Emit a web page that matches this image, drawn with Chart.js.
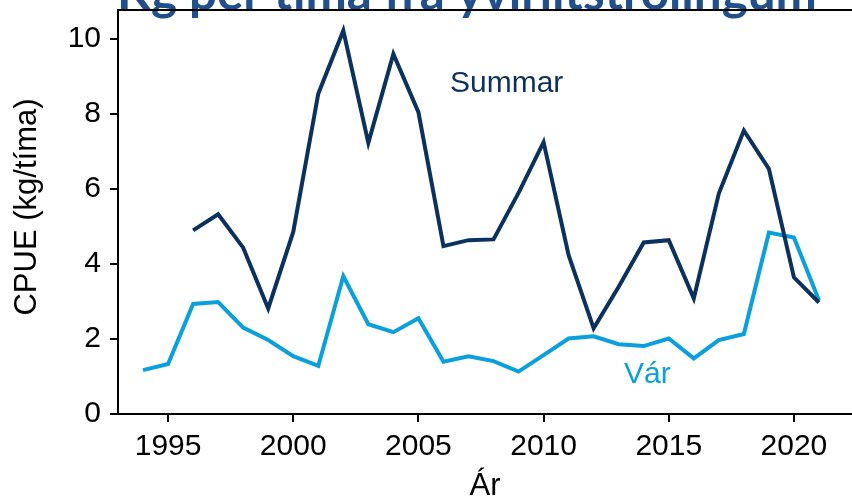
<!DOCTYPE html>
<html>
<head>
<meta charset="utf-8">
<script src="https://cdn.jsdelivr.net/npm/chart.js@4/dist/chart.umd.min.js"></script>
<style>
  html, body { margin: 0; padding: 0; background: #fff; }
  #wrap { width: 852px; height: 497px; position: relative; }
</style>
</head>
<body>
<div id="wrap"><canvas id="myChart"></canvas></div>
<script>
// data
var years = [1994, 1995, 1996, 1997, 1998, 1999, 2000, 2001, 2002, 2003, 2004, 2005, 2006, 2007,
	2008, 2009, 2010, 2011, 2012, 2013, 2014, 2015, 2016, 2017, 2018, 2019, 2020, 2021];
var summar = [null, null, 4.89, 5.32, 4.43, 2.81, 4.85, 8.53, 10.21, 7.22, 9.59, 8.04, 4.47, 4.63,
	4.65, 5.89, 7.24, 4.23, 2.28, 3.39, 4.57, 4.63, 3.08, 5.87, 7.55, 6.53, 3.64, 2.97];
var var_ = [1.17, 1.33, 2.93, 2.98, 2.30, 1.97, 1.54, 1.28, 3.67, 2.39, 2.18, 2.55, 1.39, 1.54,
	1.41, 1.13, 1.57, 2.01, 2.07, 1.86, 1.81, 2.01, 1.48, 1.97, 2.13, 4.83, 4.70, 3.03];
var xTicks = [1995, 2000, 2005, 2010, 2015, 2020];
var yTicks = [0, 2, 4, 6, 8, 10];

var titleText = "Kg per tíma frá yvirlitstrolingum";
var seriesNames = ["Summar", "Vár"];
var colors = ["#0B315E", "#0A9FDD"];

function points(vals) {
	return years.map(function(y, i) { return { x: y, y: vals[i] }; });
}

var font = "'Liberation Sans', Arial, sans-serif";

var textPlugin = {
	id: 'texts',
	afterDraw: function(chart) {
		var c = chart.ctx;
		var a = chart.chartArea;
		c.save();

		// title, cut off at top like the original
		var size = 40;
		c.font = "bold " + size + "px Lato, sans-serif";
		var w = c.measureText(titleText).width;
		size = size * 700 / w;
		c.font = "bold " + size + "px Lato, sans-serif";
		c.fillStyle = "#214F8B";
		c.textAlign = "center";
		c.textBaseline = "alphabetic";
		c.fillText(titleText, 467, 10);

		// frame line on top
		c.strokeStyle = "#000";
		c.lineWidth = 2;
		c.beginPath();
		c.moveTo(a.left, a.top);
		c.lineTo(a.right, a.top);
		c.stroke();

		// series labels
		c.font = "30px " + font;
		c.textAlign = "left";
		c.fillStyle = colors[0];
		c.fillText(seriesNames[0], 450, 92);
		c.fillStyle = colors[1];
		c.fillText(seriesNames[1], 624, 383);

		// axis titles
		c.fillStyle = "#000";
		c.font = "31px " + font;
		c.textAlign = "center";
		c.textBaseline = "middle";
		c.fillText("Ár", (a.left + a.right) / 2, 486);
		c.translate(27, 207);
		c.rotate(-Math.PI / 2);
		c.fillText("CPUE (kg/tíma)", 0, 0);
		c.restore();
	}
};

var ctx = document.getElementById("myChart");

var myLineChart = new Chart(ctx, {
	type: 'line',
	data: {
		datasets: [
			{
				label: seriesNames[0],
				data: points(summar),
				borderColor: colors[0],
				borderWidth: 4,
				pointRadius: 0,
				tension: 0,
				spanGaps: false
			},
			{
				label: seriesNames[1],
				data: points(var_),
				borderColor: colors[1],
				borderWidth: 4,
				pointRadius: 0,
				tension: 0
			}
		]
	},
	options: {
		responsive: true,
		maintainAspectRatio: false,
		animation: false,
		layout: { padding: { top: 10, left: 0, right: 0, bottom: 0 } },
		plugins: {
			legend: { display: false },
			tooltip: { enabled: false }
		},
		scales: {
			x: {
				type: 'linear',
				min: 1993,
				max: 2022.32,
				afterBuildTicks: function(scale) {
					scale.ticks = xTicks.map(function(v) { return { value: v }; });
				},
				afterFit: function(scale) {
					scale.height = 83;
					scale.paddingLeft = 0;
					scale.paddingRight = 0;
				},
				grid: { drawOnChartArea: false, drawTicks: true, tickLength: 8, color: "#000", lineWidth: 2 },
				border: { display: true, color: "#000", width: 2 },
				ticks: {
					color: "#000",
					font: { family: font, size: 30 },
					padding: 7,
					maxRotation: 0,
					autoSkip: false,
					callback: function(v) { return String(v); }
				}
			},
			y: {
				min: 0,
				max: 10.76,
				afterBuildTicks: function(scale) {
					scale.ticks = yTicks.map(function(v) { return { value: v }; });
				},
				afterFit: function(scale) {
					scale.width = 118;
					scale.paddingTop = 0;
					scale.paddingBottom = 0;
				},
				grid: { drawOnChartArea: false, drawTicks: true, tickLength: 8, color: "#000", lineWidth: 2 },
				border: { display: true, color: "#000", width: 2 },
				ticks: {
					color: "#000",
					font: { family: font, size: 30 },
					padding: 9
				}
			}
		}
	},
	plugins: [textPlugin]
});
</script>
</body>
</html>
